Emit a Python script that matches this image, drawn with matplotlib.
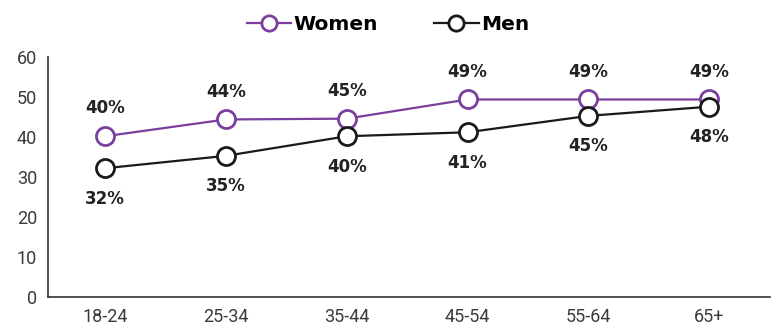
import matplotlib.pyplot as plt
from matplotlib.lines import Line2D

groups = ["18-24", "25-34", "35-44", "45-54", "55-64", "65+"]
women = [40.2, 44.4, 44.6, 49.4, 49.4, 49.4]
men = [32.2, 35.3, 40.2, 41.2, 45.3, 47.6]
women_lbl = ["40%", "44%", "45%", "49%", "49%", "49%"]
men_lbl = ["32%", "35%", "40%", "41%", "45%", "48%"]

purple = "#7b3f9e"
dark = "#1a1a1a"

fig = plt.figure(figsize=(7.76, 3.3), dpi=100)
ax = fig.add_axes([0.062, 0.1, 0.93, 0.727])

x = range(len(groups))
ax.plot(x, women, color=purple, lw=1.6, marker="o", ms=13, mfc="white", mec=purple, mew=2, zorder=3)
ax.plot(x, men, color=dark, lw=1.6, marker="o", ms=13, mfc="white", mec=dark, mew=2, zorder=4)

for i in x:
    ax.annotate(women_lbl[i], (i, women[i]), xytext=(0, 20), textcoords="offset points",
                ha="center", va="center", fontsize=12, fontweight="bold", family="DejaVu Sans", color="#222222")
    ax.annotate(men_lbl[i], (i, men[i]), xytext=(0, -22), textcoords="offset points",
                ha="center", va="center", fontsize=12, fontweight="bold", family="DejaVu Sans", color="#222222")

ax.set_xlim(-0.47, 5.5)
ax.set_ylim(0, 60)
ax.set_yticks(range(0, 61, 10))
ax.set_xticks(list(x))
ax.set_xticklabels(groups)
for s in ["top", "right"]:
    ax.spines[s].set_visible(False)
for s in ["left", "bottom"]:
    ax.spines[s].set_color("#333333")
    ax.spines[s].set_linewidth(1.2)
ax.tick_params(length=0, labelsize=13, colors="#3a3a3a", pad=8)
for t in ax.get_xticklabels() + ax.get_yticklabels():
    t.set_family("Roboto")

handles = [
    Line2D([], [], color=purple, lw=1.6, marker="o", ms=11, mfc="white", mec=purple, mew=2),
    Line2D([], [], color=dark, lw=1.6, marker="o", ms=11, mfc="white", mec=dark, mew=2),
]
fig.legend(handles, ["Women", "Men"], loc="center", bbox_to_anchor=(0.5, 0.925), ncol=2,
           frameon=False, handlelength=2.2, handletextpad=0.1, columnspacing=2.8,
           prop={"family": "DejaVu Sans", "weight": "bold", "size": 14.5})

fig.savefig("out.png", dpi=100)
